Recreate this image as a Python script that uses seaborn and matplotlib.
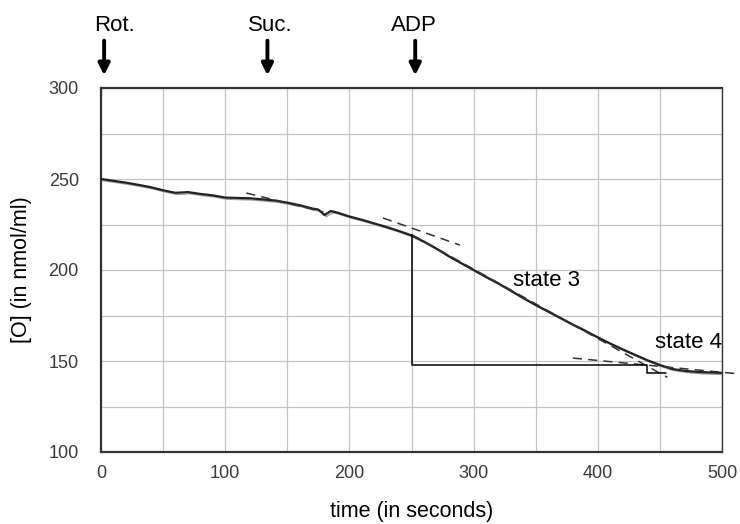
import numpy as np
import pandas as pd
import matplotlib
matplotlib.use("Agg")
import matplotlib.pyplot as plt
import seaborn as sns

# ---- data ----
time_s = [0, 10, 20, 30, 40, 50, 60, 70, 80, 90, 100, 110, 120, 130, 140, 150,
          160, 170, 175, 180, 185, 190, 200, 210, 220, 230, 240, 250, 260, 270,
          280, 290, 300, 310, 320, 330, 340, 350, 360, 370, 380, 390, 400, 410,
          420, 430, 440, 450, 460, 470, 480, 490, 500]
oxygen = [250, 249, 248, 246.8, 245.5, 243.8, 242.4, 242.8, 241.8, 241, 239.8, 239.6,
          239.4, 238.8, 238.2, 237, 235.6, 233.8, 233.2, 230.2, 232.4, 231.6, 229.4,
          227.6, 225.6, 223.6, 221.4, 219, 215.6, 211.8, 207.6, 203.8, 200, 196.2,
          192.6, 188.6, 184.6, 180.8, 177.2, 173.6, 170, 166.6, 163, 159.6, 156.4,
          153.4, 150.4, 147.8, 145.6, 144.6, 144, 143.7, 143.5]

# tangents (dashed): (t0, v0, t1, v1)
tangent_basal = [117, 242.3, 179, 231.9]
tangent_pre_adp = [227, 228.6, 289, 213.7]
tangent_state3 = [250, 219.5, 456, 141]
tangent_state4 = [380, 151.6, 514, 142.9]

# rate construction (solid)
rect_x = [250, 250, 440, 440, 455]
rect_y = [219, 148, 148, 143.5, 143.5]

events = ["Rot.", "Suc.", "ADP"]
event_times = [2.5, 134, 253]

x_ticks = [0, 100, 200, 300, 400, 500]
y_ticks = [100, 150, 200, 250, 300]

# ---- plot ----
sns.set_theme(style="white")
plt.rcParams["font.family"] = ["Liberation Sans", "DejaVu Sans"]

fig = plt.figure(figsize=(7.4, 5.24), dpi=100)
ax = fig.add_axes([101 / 740, 72 / 524, 621 / 740, 364 / 524])

df = pd.DataFrame({"time": time_s, "O": oxygen})
sns.lineplot(data=df, x="time", y="O", ax=ax, color="#222222", lw=1.6, zorder=5)
sns.lineplot(x=np.array(time_s) + 1.5, y=np.array(oxygen) - 0.9, ax=ax,
             color="#9a9a9a", lw=1.0, zorder=4)

dash_kw = dict(color="#333333", lw=1.1, ls=(0, (6, 4)), zorder=6)
for t0, v0, t1, v1 in [tangent_basal, tangent_pre_adp, tangent_state3]:
    ax.plot([t0, t1], [v0, v1], **dash_kw)
t0, v0, t1, v1 = tangent_state4
ax.plot([t0, t1], [v0, v1], clip_on=False, **dash_kw)

ax.plot(rect_x, rect_y, color="black", lw=1.1, zorder=6)

ax.set_xlim(0, 500)
ax.set_ylim(100, 300)
ax.set_xticks(x_ticks)
ax.set_yticks(y_ticks)
ax.set_xticks(np.arange(0, 501, 50), minor=True)
ax.set_yticks(np.arange(100, 301, 25), minor=True)
ax.grid(which="both", color="#c4c4c4", lw=0.9)
ax.set_axisbelow(True)
ax.tick_params(which="both", length=0, labelsize=13, colors="#3a3a3a")
ax.tick_params(axis="x", pad=9)
ax.tick_params(axis="y", pad=16)

for side in ["left", "bottom", "top"]:
    ax.spines[side].set_color("#333333")
    ax.spines[side].set_linewidth(1.6)
ax.spines["right"].set_color("#333333")
ax.spines["right"].set_linewidth(1.0)

ax.set_xlabel("time (in seconds)", fontsize=15.5, color="black", labelpad=14)
ax.set_ylabel("[O] (in nmol/ml)", fontsize=15.5, color="black", labelpad=12)

label_offset = {"Rot.": 8, "Suc.": 2, "ADP": -1}
for name, t in zip(events, event_times):
    ax.annotate("", xy=(t, 307), xytext=(t, 326), xycoords="data",
                annotation_clip=False,
                arrowprops=dict(arrowstyle="-|>", lw=2.8, color="black",
                                mutation_scale=17, shrinkA=0, shrinkB=0))
    ax.text(t + label_offset[name], 328.5, name, fontsize=16, ha="center",
            va="bottom", color="black", clip_on=False)

ax.text(331.5, 194, "state 3", fontsize=16, color="black", ha="left", va="center")
ax.text(446, 160.4, "state 4", fontsize=16, color="black", ha="left", va="center",
        clip_on=False)

fig.savefig("out.png", dpi=100, facecolor="white")
